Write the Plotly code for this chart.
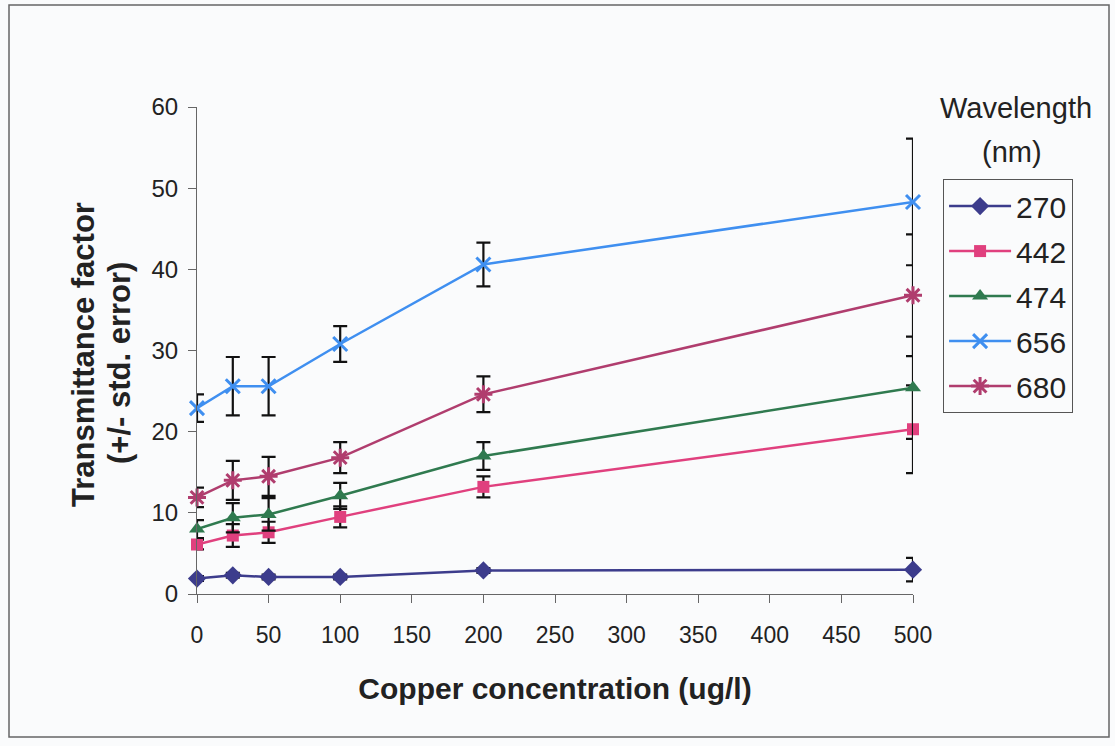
import plotly.graph_objects as go

conc = [0, 25, 50, 100, 200, 500]
wavelengths = ["270", "442", "474", "656", "680"]
values = {
    "270": [1.9, 2.3, 2.1, 2.1, 2.9, 3.0],
    "442": [6.1, 7.2, 7.6, 9.5, 13.2, 20.3],
    "474": [8.0, 9.4, 9.8, 12.1, 17.0, 25.4],
    "656": [22.9, 25.6, 25.6, 30.8, 40.6, 48.3],
    "680": [11.9, 14.0, 14.5, 16.8, 24.6, 36.8],
}
errors = {
    "270": [0.3, 0.3, 0.3, 0.3, 0.3, 1.45],
    "442": [0.6, 1.4, 1.3, 1.3, 1.3, 5.4],
    "474": [1.1, 1.8, 2.0, 1.6, 1.7, 6.3],
    "656": [1.7, 3.6, 3.6, 2.2, 2.7, 7.8],
    "680": [1.2, 2.4, 2.4, 1.9, 2.2, 7.5],
}
colors = {"270": "#3c3c8c", "442": "#e0407e", "474": "#2f7a4f",
          "656": "#3f8ff0", "680": "#b03d6e"}
symbols = {"270": "diamond", "442": "square", "474": "triangle-up",
           "656": "x-thin-open", "680": "asterisk-open"}
sizes = {"270": 14, "442": 12, "474": 14, "656": 14, "680": 15}

FONT = "Liberation Sans, Arial, sans-serif"
TXT = "#222222"

fig = go.Figure()
for w in wavelengths:
    open_sym = symbols[w].endswith("open")
    fig.add_trace(go.Scatter(
        x=conc, y=values[w], name=w, mode="lines+markers",
        legendgroup=w,
        line=dict(color=colors[w], width=2.5),
        marker=dict(symbol=symbols[w], size=sizes[w], color=colors[w],
                    line=dict(color=colors[w], width=3 if open_sym else 0)),
        error_y=dict(type="data", array=errors[w], visible=True,
                     color="#111111", thickness=2.2, width=7),
        cliponaxis=False,
    ))

fig.update_layout(
    width=1115, height=746,
    margin=dict(l=197, r=202, t=107, b=152),
    paper_bgcolor="#fafbfc", plot_bgcolor="#fafbfc",
    font=dict(family=FONT, color=TXT, size=22),
    showlegend=True,
    legend=dict(
        x=1.042, y=0.852, xanchor="left", yanchor="top",
        bordercolor="#555555", borderwidth=1, bgcolor="rgba(0,0,0,0)",
        font=dict(size=30, family=FONT, color=TXT),
        tracegroupgap=3, itemwidth=62,
    ),
    xaxis=dict(
        range=[0, 500], tickvals=[0, 50, 100, 150, 200, 250, 300, 350, 400, 450, 500],
        showgrid=False, zeroline=False, showline=True, linecolor="#666666", linewidth=1.2,
        ticks="outside", ticklen=8, tickcolor="#666666",
        ticklabelstandoff=12,
        tickfont=dict(size=23, family=FONT, color=TXT),
        title=dict(text="<b>Copper concentration (ug/l)</b>", standoff=31,
                   font=dict(size=30, family=FONT, color=TXT)),
    ),
    yaxis=dict(
        range=[0, 60], tickvals=[0, 10, 20, 30, 40, 50, 60],
        showgrid=False, zeroline=False, showline=True, linecolor="#666666", linewidth=1.2,
        ticks="outside", ticklen=8, tickcolor="#666666",
        ticklabelstandoff=5,
        tickfont=dict(size=24, family=FONT, color=TXT),
    ),
)

plot_w = 1115 - 197 - 202
plot_h = 746 - 107 - 152
def px(xp):
    return (xp - 197) / plot_w
def py(yp):
    return (594 - yp) / plot_h

fig.add_annotation(text="<b>Transmittance factor</b>", xref="paper", yref="paper",
                   x=px(83), y=py(355), textangle=-90, showarrow=False,
                   xanchor="center", yanchor="middle",
                   font=dict(size=31, family=FONT, color=TXT))
fig.add_annotation(text="<b>(+/- std. error)</b>", xref="paper", yref="paper",
                   x=px(119), y=py(363), textangle=-90, showarrow=False,
                   xanchor="center", yanchor="middle",
                   font=dict(size=31, family=FONT, color=TXT))
fig.add_annotation(text="Wavelength", xref="paper", yref="paper",
                   x=px(1016), y=py(108), showarrow=False,
                   xanchor="center", yanchor="middle",
                   font=dict(size=29, family=FONT, color=TXT))
fig.add_annotation(text="(nm)", xref="paper", yref="paper",
                   x=px(1012), y=py(152), showarrow=False,
                   xanchor="center", yanchor="middle",
                   font=dict(size=29, family=FONT, color=TXT))
fig.add_shape(type="rect", xref="paper", yref="paper",
              x0=px(9), x1=px(1109), y0=py(737), y1=py(5),
              line=dict(color="#666666", width=1.5), layer="below")

fig.write_html("out.html")
